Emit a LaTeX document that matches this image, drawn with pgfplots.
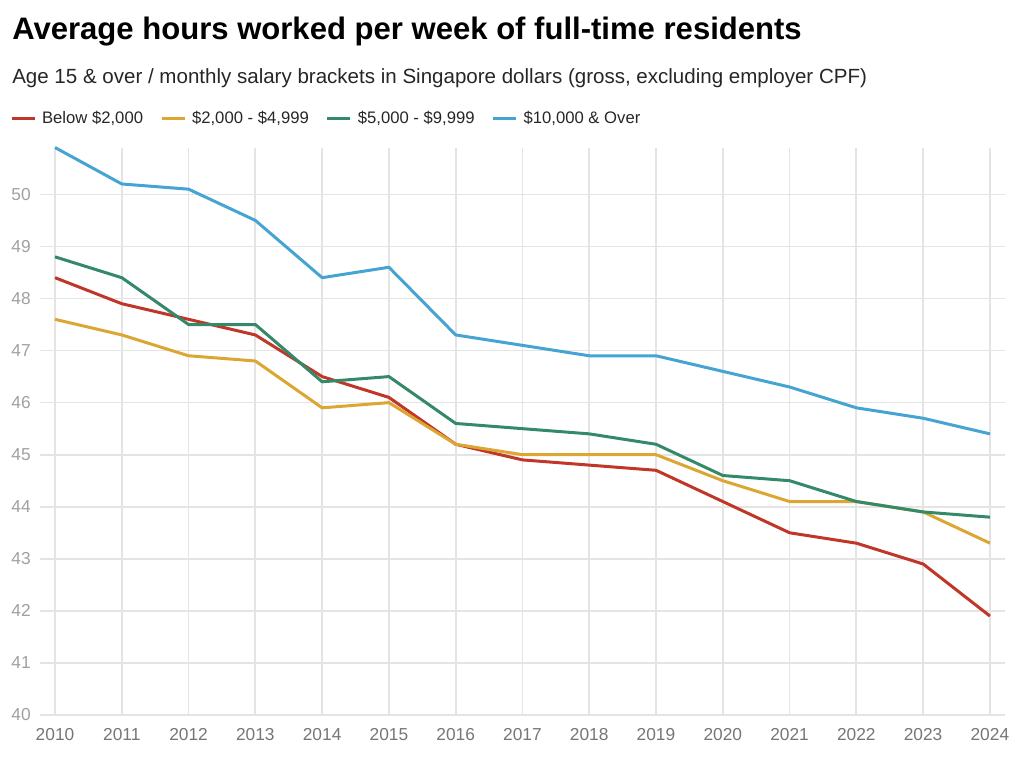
\documentclass[border=0pt]{standalone}
\usepackage{pgfplots}
\pgfplotsset{compat=1.18}
\usepackage{fontspec}
\setmainfont{Liberation Sans}
\definecolor{cred}{RGB}{192,54,40}
\definecolor{cyel}{RGB}{220,166,50}
\definecolor{cgrn}{RGB}{52,138,104}
\definecolor{cblu}{RGB}{70,164,210}
\definecolor{gridc}{RGB}{228,228,228}
\definecolor{ylab}{RGB}{160,160,160}
\definecolor{xlab}{RGB}{118,118,118}
\begin{document}
\begin{tikzpicture}
\useasboundingbox (0,0) rectangle (768pt,570.75pt);
\node[anchor=base west, inner sep=0pt, font=\fontsize{23.3}{27}\selectfont\bfseries] at (9pt,540.75pt) {Average hours worked per week of full-time residents};
\node[anchor=base west, inner sep=0pt, font=\fontsize{15.4}{18}\selectfont, text=black!85] at (9pt,507.75pt) {Age 15 \& over / monthly salary brackets in Singapore dollars (gross, excluding employer CPF)};
\begin{axis}[
  at={(30pt,34.5pt)}, anchor=south west,
  scale only axis,
  width=723.75pt, height=425.6pt,
  xmin=2009.775, xmax=2024.225,
  ymin=40, ymax=50.9,
  xtick={2010,...,2024},
  ytick={40,...,50},
  xticklabel style={/pgf/number format/1000 sep={}, text=xlab, font=\fontsize{13}{15}\selectfont, anchor=north, inner sep=0pt},
  yticklabel style={text=ylab, font=\fontsize{13}{15}\selectfont, anchor=east, inner sep=0pt},
  /pgf/number format/assume math mode=true,
  xtick pos=bottom, ytick pos=left,
  major tick length=0pt,
  xticklabel shift=10pt,
  yticklabel shift=6.75pt,
  axis line style={draw=none},
  grid=major,
  major grid style={gridc, line width=1.3pt},
  every axis plot/.append style={line width=2.25pt, line join=round},
  legend columns=4,
  legend cell align=left,
  legend style={draw=none, fill=none, inner sep=0pt, outer sep=0pt,
    at={(-0.031,1.052)}, anchor=west,
    font=\fontsize{12.5}{14}\selectfont, text=black!85,
    nodes={inner sep=0pt},
    /tikz/every odd column/.append style={column sep=4.5pt},
    /tikz/every even column/.append style={column sep=12.75pt}},
  legend image code/.code={\draw[#1] (0pt,0pt) -- (17.25pt,0pt);},
  clip=false,
]
\addplot[cred] coordinates {(2010,48.4)(2011,47.9)(2012,47.6)(2013,47.3)(2014,46.5)(2015,46.1)(2016,45.2)(2017,44.9)(2018,44.8)(2019,44.7)(2020,44.1)(2021,43.5)(2022,43.3)(2023,42.9)(2024,41.9)};
\addlegendentry{Below \$2,000}
\addplot[cyel] coordinates {(2010,47.6)(2011,47.3)(2012,46.9)(2013,46.8)(2014,45.9)(2015,46.0)(2016,45.2)(2017,45.0)(2018,45.0)(2019,45.0)(2020,44.5)(2021,44.1)(2022,44.1)(2023,43.9)(2024,43.3)};
\addlegendentry{\$2,000 - \$4,999}
\addplot[cgrn] coordinates {(2010,48.8)(2011,48.4)(2012,47.5)(2013,47.5)(2014,46.4)(2015,46.5)(2016,45.6)(2017,45.5)(2018,45.4)(2019,45.2)(2020,44.6)(2021,44.5)(2022,44.1)(2023,43.9)(2024,43.8)};
\addlegendentry{\$5,000 - \$9,999}
\addplot[cblu] coordinates {(2010,50.9)(2011,50.2)(2012,50.1)(2013,49.5)(2014,48.4)(2015,48.6)(2016,47.3)(2017,47.1)(2018,46.9)(2019,46.9)(2020,46.6)(2021,46.3)(2022,45.9)(2023,45.7)(2024,45.4)};
\addlegendentry{\$10,000 \& Over}
\end{axis}
\end{tikzpicture}
\end{document}
